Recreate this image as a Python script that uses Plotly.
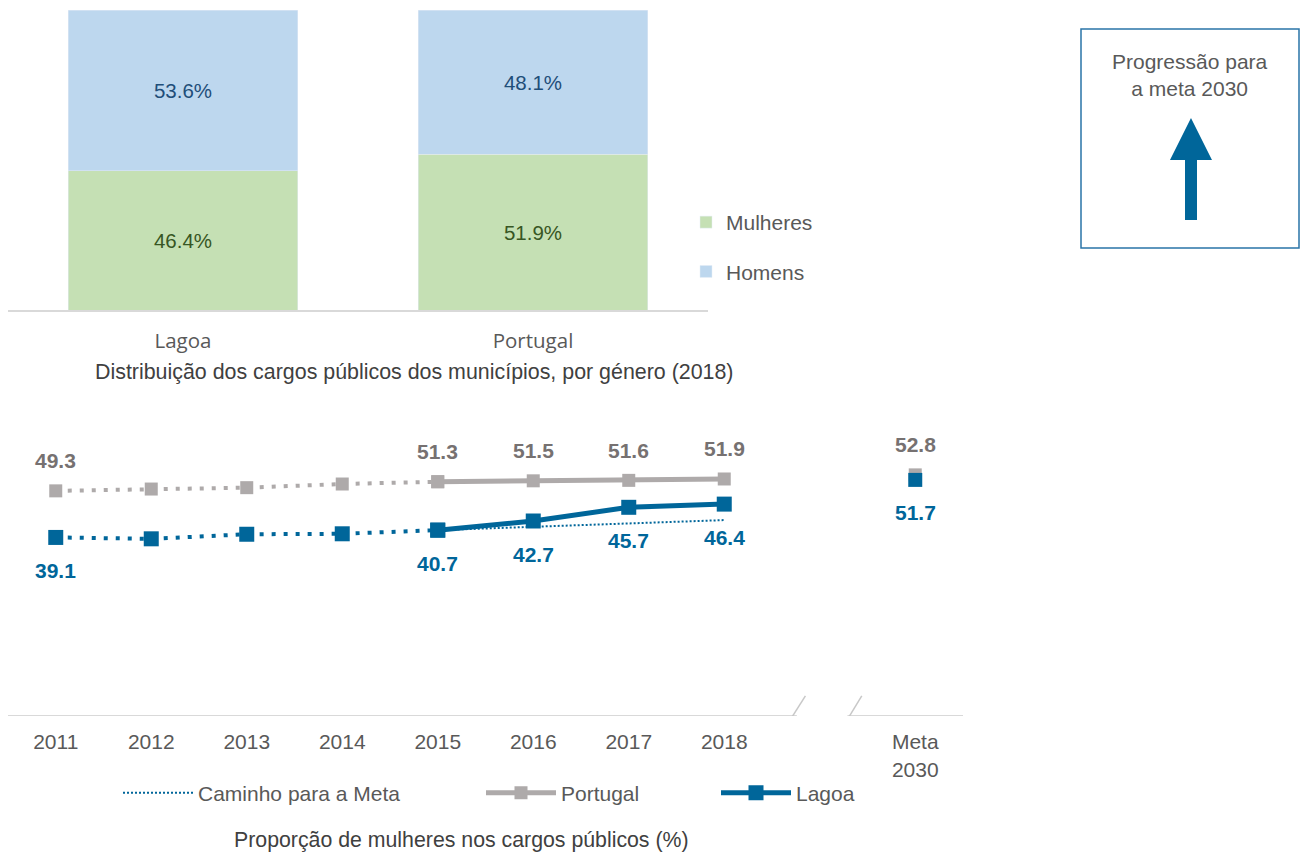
import plotly.graph_objects as go

# ---------------- data ----------------
# Top chart: distribution of public positions by gender (2018)
regions = ["Lagoa", "Portugal"]
mulheres = [46.4, 51.9]
homens = [53.6, 48.1]

# Bottom chart: proportion of women in public positions (%)
years = ["2011", "2012", "2013", "2014", "2015", "2016", "2017", "2018"]
meta_cat = "Meta"
meta_text = "Meta<br>2030"
gap_cat = "  "
portugal = [49.3, 49.7, 50.0, 50.8, 51.3, 51.5, 51.6, 51.9]
lagoa = [39.1, 38.8, 39.8, 39.9, 40.7, 42.7, 45.7, 46.4]
caminho = [None, None, None, None, 40.7, 41.4, 42.2, 42.9]
portugal_meta = 52.8
lagoa_meta = 51.7
labelled = ["2011", "2015", "2016", "2017", "2018"]

# ---------------- style ----------------
W, H = 1303, 856
BLUE = "#00669a"
GRAY = "#aeaaaa"
GRAY_LBL = "#767171"
TXT = "#595959"
ARIAL = "Arial, Liberation Sans, sans-serif"
FS = 21


def px_x(p):
    return p / W


def px_y(p):
    return 1 - p / H


categories = years + [gap_cat, meta_cat]

fig = go.Figure()

# ---------------- top stacked bars ----------------
fig.add_trace(go.Bar(
    x=regions, y=mulheres, name="Mulheres", marker_color="#c5e0b4",
    text=[f"{v:.1f}%" for v in mulheres], textposition="inside",
    insidetextanchor="middle", textfont=dict(family=ARIAL, size=20.5, color="#375623"),
    width=0.657, xaxis="x", yaxis="y", legend="legend", legendgroup="m",
    hoverinfo="skip"))
fig.add_trace(go.Bar(
    x=regions, y=homens, name="Homens", marker_color="#bdd7ee",
    text=[f"{v:.1f}%" for v in homens], textposition="inside",
    insidetextanchor="middle", textfont=dict(family=ARIAL, size=20.5, color="#1f4e79"),
    width=0.657, xaxis="x", yaxis="y", legend="legend", legendgroup="h",
    hoverinfo="skip"))

# ---------------- bottom line chart ----------------
dot_dash = "4px,8px"
n_dot = 5  # 2011..2015 dotted
fig.add_trace(go.Scatter(
    x=years[:n_dot], y=portugal[:n_dot], mode="lines+markers",
    line=dict(color=GRAY, width=4, dash=dot_dash),
    marker=dict(symbol="square", size=13, color=GRAY),
    xaxis="x2", yaxis="y2", showlegend=False, hoverinfo="skip"))
fig.add_trace(go.Scatter(
    x=years[n_dot - 1:], y=portugal[n_dot - 1:], mode="lines+markers", name="Portugal",
    line=dict(color=GRAY, width=5), marker=dict(symbol="square", size=13, color=GRAY),
    xaxis="x2", yaxis="y2", legend="legend3", hoverinfo="skip"))
fig.add_trace(go.Scatter(
    x=[meta_cat], y=[portugal_meta], mode="markers",
    marker=dict(symbol="square", size=13, color=GRAY),
    xaxis="x2", yaxis="y2", showlegend=False, hoverinfo="skip"))

fig.add_trace(go.Scatter(
    x=years[:n_dot], y=lagoa[:n_dot], mode="lines+markers",
    line=dict(color=BLUE, width=4, dash=dot_dash),
    marker=dict(symbol="square", size=15, color=BLUE),
    xaxis="x2", yaxis="y2", showlegend=False, hoverinfo="skip"))
fig.add_trace(go.Scatter(
    x=years[n_dot - 1:], y=lagoa[n_dot - 1:], mode="lines+markers", name="Lagoa",
    line=dict(color=BLUE, width=5), marker=dict(symbol="square", size=15, color=BLUE),
    xaxis="x2", yaxis="y2", legend="legend4", hoverinfo="skip"))
fig.add_trace(go.Scatter(
    x=[meta_cat], y=[lagoa_meta], mode="markers",
    marker=dict(symbol="square", size=14, color=BLUE),
    xaxis="x2", yaxis="y2", showlegend=False, hoverinfo="skip"))

fig.add_trace(go.Scatter(
    x=years, y=caminho, mode="lines", name="Caminho para a Meta",
    line=dict(color=BLUE, width=2, dash="2px,2px"),
    xaxis="x2", yaxis="y2", legend="legend2", hoverinfo="skip"))

# data labels (category axis: positions given as category index)
lbl_gray = dict(family=ARIAL, size=FS, color=GRAY_LBL, weight="bold")
lbl_blue = dict(family=ARIAL, size=FS, color=BLUE, weight="bold")
annotations = []
for yr, pv, lv in zip(years, portugal, lagoa):
    if yr in labelled:
        ci = categories.index(yr)
        annotations.append(dict(x=ci, y=pv, xref="x2", yref="y2", text=f"{pv:.1f}",
                                showarrow=False, yshift=30, font=lbl_gray))
        annotations.append(dict(x=ci, y=lv, xref="x2", yref="y2", text=f"{lv:.1f}",
                                showarrow=False, yshift=-33, font=lbl_blue))
mi = categories.index(meta_cat)
annotations.append(dict(x=mi, y=portugal_meta, xref="x2", yref="y2",
                        text=f"{portugal_meta:.1f}", showarrow=False, yshift=30, font=lbl_gray))
annotations.append(dict(x=mi, y=lagoa_meta, xref="x2", yref="y2",
                        text=f"{lagoa_meta:.1f}", showarrow=False, yshift=-33, font=lbl_blue))

# titles / box text
annotations.append(dict(x=px_x(414), y=px_y(372), xref="paper", yref="paper",
                        xanchor="center", yanchor="middle",
                        text="Distribuição dos cargos públicos dos municípios, por género (2018)",
                        showarrow=False, font=dict(family=ARIAL, size=21.4, color="#404040")))
annotations.append(dict(x=px_x(461), y=px_y(840), xref="paper", yref="paper",
                        xanchor="center", yanchor="middle",
                        text="Proporção de mulheres nos cargos públicos (%)",
                        showarrow=False, font=dict(family=ARIAL, size=21.3, color="#404040")))
annotations.append(dict(x=px_x(1190), y=px_y(75), xref="paper", yref="paper",
                        xanchor="center", yanchor="middle",
                        text="Progressão para<br>a meta 2030", align="center",
                        showarrow=False, font=dict(family=ARIAL, size=FS, color=TXT)))

# ---------------- shapes ----------------
shapes = []
# broken x axis of the bottom chart (category index coordinates)
ax_col = "#d9d9d9"
shapes.append(dict(type="line", xref="x2", yref="y2", x0=-0.5, x1=7.76, y0=0, y1=0,
                   line=dict(color=ax_col, width=2)))
shapes.append(dict(type="line", xref="x2", yref="y2", x0=8.29, x1=9.5, y0=0, y1=0,
                   line=dict(color=ax_col, width=2)))
shapes.append(dict(type="line", xref="x2", yref="y2", x0=7.61, x1=7.85, y0=-3.5, y1=4.4,
                   line=dict(color="#c8c8c8", width=1.5)))
shapes.append(dict(type="line", xref="x2", yref="y2", x0=8.21, x1=8.44, y0=-3.5, y1=4.4,
                   line=dict(color="#c8c8c8", width=1.5)))
# box at the right
shapes.append(dict(type="rect", xref="paper", yref="paper",
                   x0=px_x(1081), x1=px_x(1299), y0=px_y(248), y1=px_y(29),
                   line=dict(color="#2a74a8", width=1.5), fillcolor="rgba(0,0,0,0)"))
arrow_pts = [(1191, 118), (1212, 160), (1197, 160), (1197, 220),
             (1185, 220), (1185, 160), (1170, 160)]
path = "M " + " L ".join(f"{px_x(a):.5f},{px_y(b):.5f}" for a, b in arrow_pts) + " Z"
shapes.append(dict(type="path", xref="paper", yref="paper", path=path,
                   fillcolor=BLUE, line=dict(width=0)))

leg_font = dict(family=ARIAL, size=FS, color=TXT)

fig.update_layout(
    width=W, height=H,
    margin=dict(l=0, r=0, t=0, b=0),
    paper_bgcolor="white", plot_bgcolor="white",
    barmode="stack", bargap=0.343,
    font=dict(family=ARIAL, color=TXT),
    xaxis=dict(domain=[px_x(8), px_x(708)], anchor="y", showline=True,
               linecolor="#d9d9d9", linewidth=2, ticks="outside", ticklen=11,
               tickcolor="rgba(0,0,0,0)", showgrid=False, zeroline=False,
               tickfont=dict(family="Open Sans, Noto Sans, sans-serif", size=20.5, color=TXT),
               fixedrange=True),
    yaxis=dict(domain=[px_y(310), px_y(10)], anchor="x", range=[0, 100],
               visible=False, fixedrange=True),
    xaxis2=dict(domain=[px_x(8), px_x(963)], anchor="y2", type="category",
                categoryarray=categories, categoryorder="array",
                range=[-0.5, 9.5], showline=False, showgrid=False, zeroline=False,
                tickvals=years + [meta_cat], ticktext=years + [meta_text],
                ticks="outside", ticklen=7, tickcolor="rgba(0,0,0,0)",
                tickfont=dict(family=ARIAL, size=FS, color=TXT), fixedrange=True),
    yaxis2=dict(domain=[px_y(716), px_y(442)], anchor="x2", range=[0, 60],
                visible=False, fixedrange=True),
    legend=dict(x=px_x(686), y=px_y(202), xanchor="left", yanchor="top",
                traceorder="grouped", tracegroupgap=19, font=leg_font,
                bgcolor="rgba(0,0,0,0)", itemclick=False, itemdoubleclick=False),
    legend2=dict(x=px_x(118), y=px_y(793), xanchor="left", yanchor="middle",
                 orientation="h", font=leg_font, itemwidth=70,
                 bgcolor="rgba(0,0,0,0)", itemclick=False, itemdoubleclick=False),
    legend3=dict(x=px_x(481), y=px_y(793), xanchor="left", yanchor="middle",
                 orientation="h", font=leg_font, itemwidth=70,
                 bgcolor="rgba(0,0,0,0)", itemclick=False, itemdoubleclick=False),
    legend4=dict(x=px_x(716), y=px_y(793), xanchor="left", yanchor="middle",
                 orientation="h", font=leg_font, itemwidth=70,
                 bgcolor="rgba(0,0,0,0)", itemclick=False, itemdoubleclick=False),
    annotations=annotations,
    shapes=shapes,
    showlegend=True,
    hovermode=False,
)

fig.write_html("out.html", config={"displayModeBar": False},
               post_script="document.body.style.margin='0';document.body.style.overflow='hidden';")
